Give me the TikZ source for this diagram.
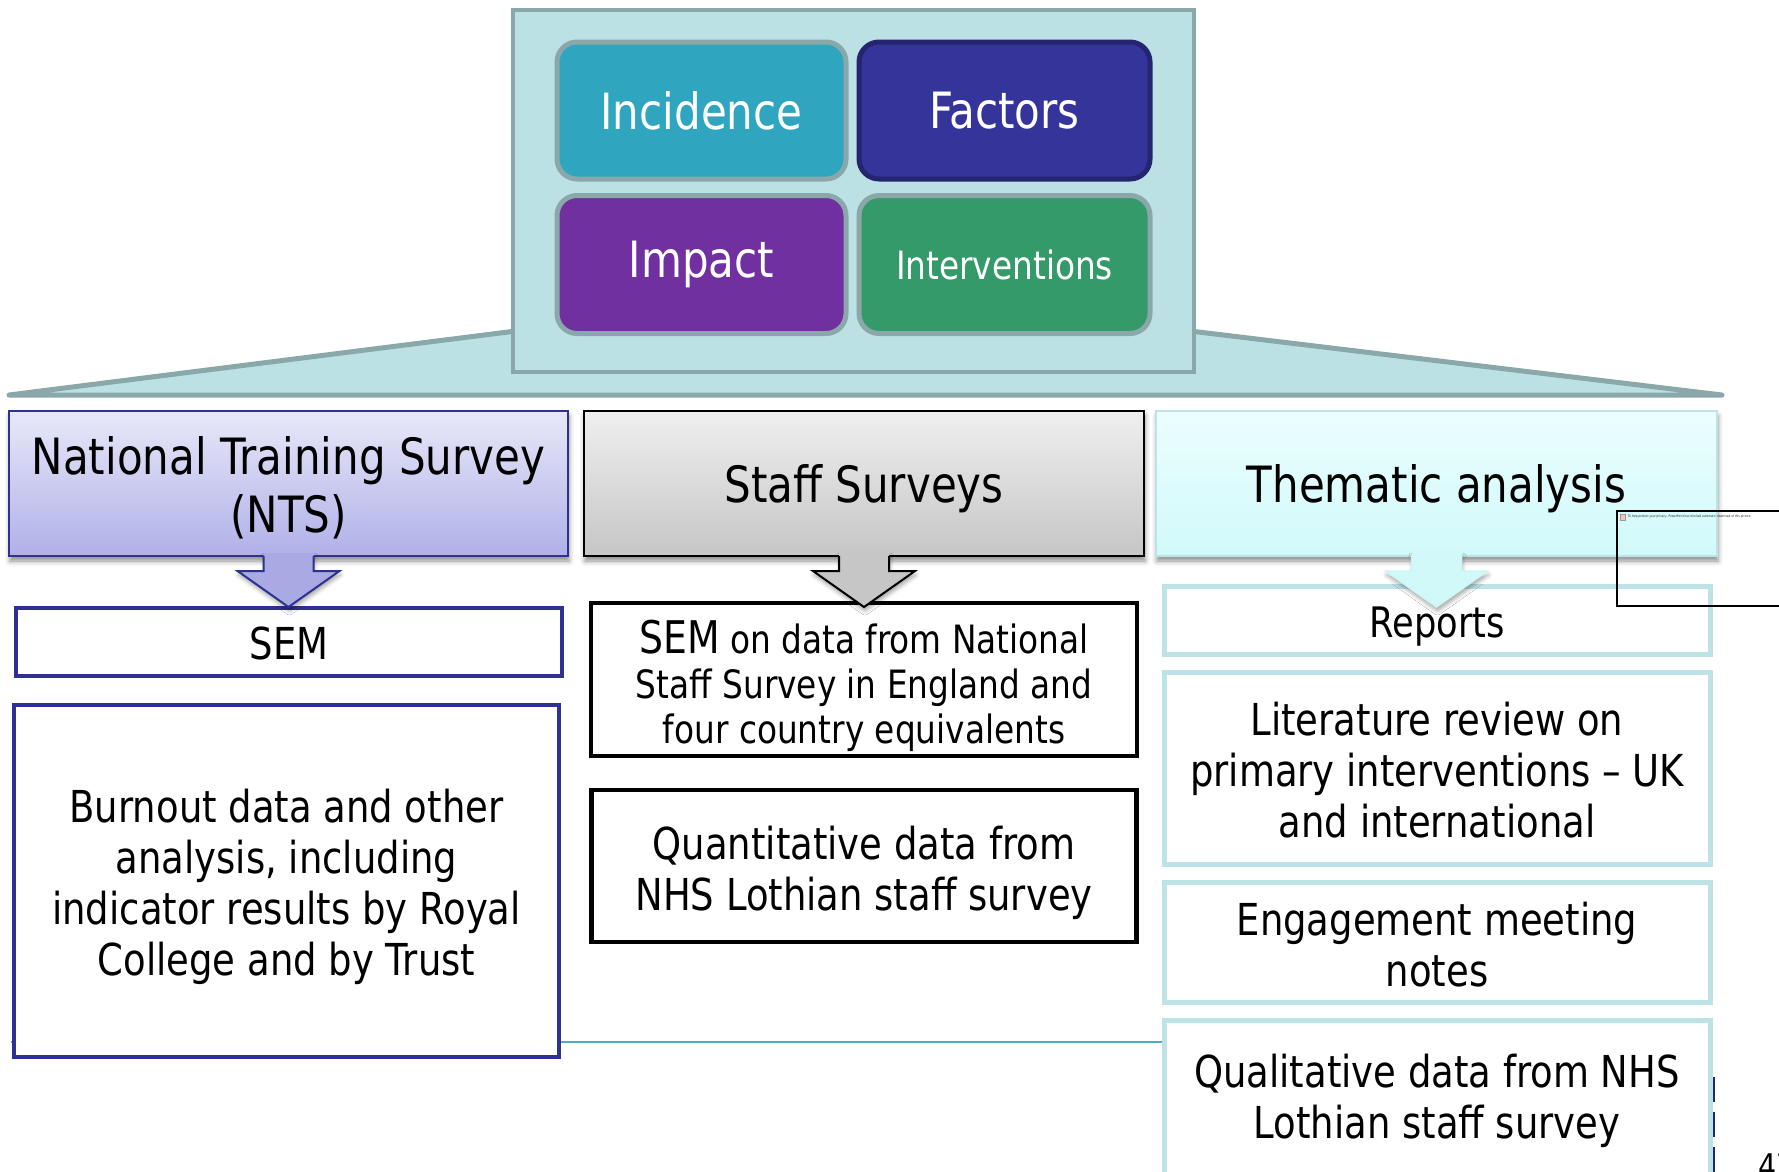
\documentclass[tikz,border=0pt]{standalone}
\usepackage{fontspec}
\setmainfont{DejaVu Sans}[FakeStretch=0.84]
\usetikzlibrary{calc,shadows.blur}

\definecolor{panelfill}{HTML}{BCE1E4}
\definecolor{panelline}{HTML}{8AA8A9}
\definecolor{incid}{HTML}{2FA5BF}
\definecolor{factr}{HTML}{35349A}
\definecolor{factrline}{HTML}{25246E}
\definecolor{impct}{HTML}{7030A0}
\definecolor{intrv}{HTML}{359A69}
\definecolor{navy}{HTML}{2E3192}
\definecolor{ntstop}{HTML}{E8E8F9}
\definecolor{ntsbot}{HTML}{B0B0E8}
\definecolor{stafftop}{HTML}{EFEFEF}
\definecolor{staffbot}{HTML}{C6C6C6}
\definecolor{themtop}{HTML}{EBFEFE}
\definecolor{thembot}{HTML}{D1F9FA}
\definecolor{themline}{HTML}{BDE3E6}
\definecolor{rulecol}{HTML}{4BACC6}
\definecolor{dashnavy}{HTML}{1F2A6E}

% invisible strut that sets the height of a node's first line
\newcommand{\tlift}[1]{\rule{0pt}{#1pt}}

% block arrow hanging below a header node: #1 node, #2 fill style, #3 outline style
\newcommand{\hangarrow}[3]{%
  \fill[#2] ($(#1.south)+(-25,-3)$) -- ($(#1.south)+(-25,15)$) -- ($(#1.south)+(-51,15)$)
     -- ($(#1.south)+(0,51)$) -- ($(#1.south)+(51,15)$) -- ($(#1.south)+(25,15)$)
     -- ($(#1.south)+(25,-3)$) -- cycle;
  \draw[#3] ($(#1.south)+(-25,0)$) -- ($(#1.south)+(-25,15)$) -- ($(#1.south)+(-51,15)$)
     -- ($(#1.south)+(0,51)$) -- ($(#1.south)+(51,15)$) -- ($(#1.south)+(25,15)$)
     -- ($(#1.south)+(25,0)$);
}

\begin{document}
\begin{tikzpicture}[x=1pt,y=-1pt,
  every node/.style={inner sep=0pt, outer sep=0pt, align=center},
  tile/.style={rounded corners=20pt, draw=panelline, line width=5pt, text=white,
    font=\fontsize{50}{60}\selectfont},
  header/.style={line width=2pt, font=\fontsize{50}{58}\selectfont,
    blur shadow={shadow xshift=1pt, shadow yshift=-5pt, shadow blur radius=5pt, shadow opacity=45}},
  body/.style={fill=white, font=\fontsize{44}{51}\selectfont},
  ntsbox/.style={body, draw=navy, line width=4.5pt},
  staffbox/.style={body, draw=black, line width=4.5pt},
  thembox/.style={body, draw=themline, line width=5pt},
  arrowshadow/.style={blur shadow={shadow xshift=1pt, shadow yshift=-4pt, shadow blur radius=4pt, shadow opacity=35}}
]
\useasboundingbox (0,0) rectangle (1779,1171);

% separator rule behind the lower boxes
\coordinate (ruleL) at (11,1042);

% fanning backdrop under the theme panel
\filldraw[fill=panelfill, draw=panelline, line width=5pt, line join=round]
  (9,395) -- (516,331) -- (1190,331) -- (1722,395) -- cycle;

% theme panel with its four tiles
\node[fill=panelfill, draw=panelline, line width=4.5pt, minimum width=681, minimum height=362]
  (panel) at (853.5,191) {};
\node[tile, fill=incid, minimum width=289, minimum height=137] (incidence) at (701.5,110.5) {Incidence};
\node[tile, fill=factr, draw=factrline, minimum width=291, minimum height=137] (factors) at (1004.5,110.5) {Factors};
\node[tile, fill=impct, minimum width=289, minimum height=138] (impact) at (701.5,264.5) {Impact};
\node[tile, fill=intrv, minimum width=291, minimum height=138, font=\fontsize{39}{46}\selectfont]
  (interventions) at (1004.5,264.5) {Interventions};

% left column
\draw[rulecol, line width=2pt] (ruleL) -- (ruleL -| 1164,0);
\node[ntsbox, minimum width=546, minimum height=68] (sem) at (289,642) {\tlift{35}SEM};
\node[ntsbox, minimum width=545, minimum height=352] (burnout) at (286.5,881)
  {\tlift{44.5}Burnout data and other\\analysis, including\\indicator results by Royal\\College and by Trust};

% middle column
\node[staffbox, minimum width=546, minimum height=153, font=\fontsize{39}{45}\selectfont] (semdata) at (864,679.5)
  {\tlift{47}{\fontsize{45}{45}\selectfont SEM} on data from National\\Staff Survey in England and\\four country equivalents};
\node[staffbox, minimum width=545, minimum height=152] (quant) at (864,866)
  {\tlift{47}Quantitative data from\\NHS Lothian staff survey};

% right column
\node[thembox, minimum width=546, minimum height=68, font=\fontsize{42}{50}\selectfont] (reports) at (1437,620)
  {\tlift{43}Reports};
\node[thembox, minimum width=546, minimum height=192] (litrev) at (1437,768)
  {\tlift{38}Literature review on\\primary interventions -- UK\\and international};
\node[thembox, minimum width=546, minimum height=120] (engage) at (1437,942)
  {\tlift{38}Engagement meeting\\notes};
\node[thembox, minimum width=546, minimum height=162] (qual) at (1437,1101)
  {Qualitative data from NHS\\Lothian staff survey};

% column headers
\node[header, shade, top color=ntstop, bottom color=ntsbot, draw=navy,
  minimum width=559, minimum height=145] (nts) at (288.5,483.5)
  {\tlift{47}National Training Survey\\(NTS)};
\node[header, shade, top color=stafftop, bottom color=staffbot, draw=black,
  minimum width=560, minimum height=145] (staff) at (864,483.5) {\tlift{49}Staff Surveys};
\node[header, shade, top color=themtop, bottom color=thembot, draw=themline,
  minimum width=561, minimum height=145] (thematic) at (1436.5,483.5) {\tlift{49}Thematic analysis};

% arrows from headers to their first box
\hangarrow{nts}{fill=ntsbot!95!navy, arrowshadow}{draw=navy, line width=2pt, line join=miter}
\hangarrow{staff}{fill=staffbot, arrowshadow}{draw=black, line width=2pt, line join=miter}
\hangarrow{thematic}{fill=thembot, arrowshadow}{draw=thembot!85!themline, line width=1.5pt, line join=miter}

% placeholder frame of a blocked picture
\node[draw=black, line width=2.5pt, minimum width=178, minimum height=95] (blocked) at (1706,558.5) {};
\node[anchor=north west, draw=black!40, fill=red!25, line width=0.4pt, minimum width=5, minimum height=6]
  (blockicon) at ($(blocked.north west)+(3,3)$) {};
\node[anchor=west, font=\fontsize{3.3}{4}\selectfont, text=black!85] (blockmsg)
  at ($(blockicon.east)+(3,0)$)
  {To help protect your privacy, PowerPoint has blocked automatic download of this picture.};

% dashed edge and page number
\coordinate (dashtop) at (1714,1077);
\coordinate (dashbot) at (1714,1176);
\draw[dashnavy, line width=2.5pt, dash pattern=on 25pt off 10pt] (dashtop) -- (dashbot);
\node[anchor=base west, font=\fontsize{34}{40}\selectfont] (pagenum) at (1758,1178) {47};
\end{tikzpicture}
\end{document}
